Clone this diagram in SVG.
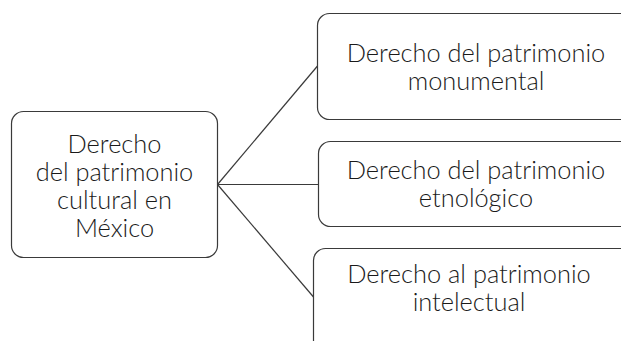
<svg xmlns="http://www.w3.org/2000/svg" width="621" height="341" viewBox="0 0 621 341">
<style>
.box{fill:#fff;stroke:#3a3a3a;stroke-width:1.2}
.t{font-family:Lato,"Open Sans",sans-serif;font-size:25.4px;font-weight:300;fill:#1a1a1a;text-anchor:middle}
.c{stroke:#3a3a3a;stroke-width:1.2;fill:none}
</style>
<rect width="621" height="341" fill="#fff"/>
<g id="connectors">
<line class="c" x1="217.5" y1="184.5" x2="317.5" y2="66"/>
<line class="c" x1="217.5" y1="184.5" x2="318.5" y2="184.5"/>
<line class="c" x1="217.5" y1="184.5" x2="313.5" y2="297"/>
</g>
<g id="root">
<rect class="box" x="11.5" y="111.5" width="206" height="146" rx="12"/>
<text class="t" x="114.5" y="153">Derecho</text>
<text class="t" x="114.5" y="181">del patrimonio</text>
<text class="t" x="114.5" y="209">cultural en</text>
<text class="t" x="114.5" y="237">México</text>
</g>
<g id="monumental">
<rect class="box" x="317.5" y="13.5" width="320" height="106" rx="12"/>
<text class="t" x="476" y="62">Derecho del patrimonio</text>
<text class="t" x="476" y="90">monumental</text>
</g>
<g id="etnologico">
<rect class="box" x="318.5" y="141.5" width="320" height="85" rx="12"/>
<text class="t" x="476" y="179">Derecho del patrimonio</text>
<text class="t" x="476" y="207">etnológico</text>
</g>
<g id="intelectual">
<rect class="box" x="313.5" y="248.5" width="320" height="110" rx="12"/>
<text class="t" x="469" y="283">Derecho al patrimonio</text>
<text class="t" x="469" y="311">intelectual</text>
</g>
</svg>
